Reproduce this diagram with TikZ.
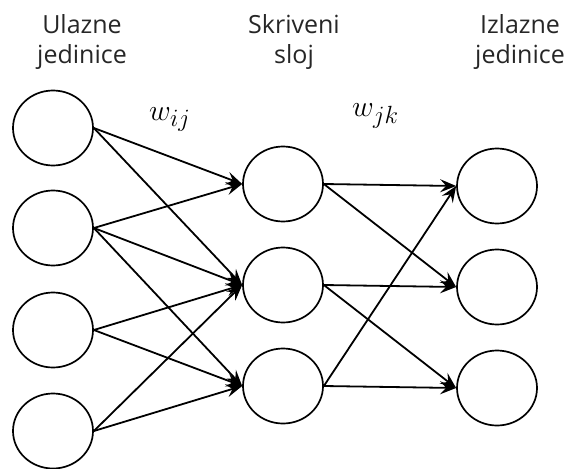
\documentclass[tikz,border=0pt]{standalone}
\usepackage{fontspec}
\newfontfamily\labelfont{Open Sans}
\usetikzlibrary{arrows.meta,shapes.geometric}
\tikzset{
	unit/.style={draw, ellipse, line width=1.7pt, minimum width=80pt, minimum height=75pt, inner sep=0pt},
	weight/.style={-{Stealth[length=16pt,width=13pt,inset=6pt]}, line width=1.8pt},
	layerlabel/.style={align=center, anchor=north, inner sep=0pt, text=black!85, font=\labelfont\fontsize{25}{30}\selectfont},
	weightlabel/.style={anchor=base west, inner sep=0pt, scale=1.2, font=\Huge}
}
\begin{document}
\begin{tikzpicture}[x=1pt,y=-1pt]
	\useasboundingbox (0,0) rectangle (569,468);
	% layer titles
	\node[layerlabel] (tin) at (82,14) {Ulazne\\jedinice};
	\node[layerlabel] (thid) at (294,14) {Skriveni\\sloj};
	\node[layerlabel] (tout) at (520,14) {Izlazne\\jedinice};
	% units
	\foreach \n/\y in {1/128,2/228,3/330,4/431}{
		\node[unit] (i\n) at (53,\y) {};
	}
	\foreach \n/\y in {1/184,2/285,3/386}{
		\node[unit] (h\n) at (283,\y) {};
		\node[unit] (o\n) at (497,\y+2) {};
	}
	% connections
	\foreach \a/\b in {1/1,1/2,2/1,2/2,2/3,3/2,3/3,4/2,4/3}{
		\draw[weight] (i\a.east) -- (h\b.west);
	}
	\foreach \a/\b in {1/1,1/2,2/2,2/3,3/1,3/3}{
		\draw[weight] (h\a.east) -- (o\b.west);
	}
	% weights
	\node[weightlabel] (wij) at (149,120) {$w_{ij}$};
	\node[weightlabel] (wjk) at (352,117) {$w_{jk}$};
\end{tikzpicture}
\end{document}
